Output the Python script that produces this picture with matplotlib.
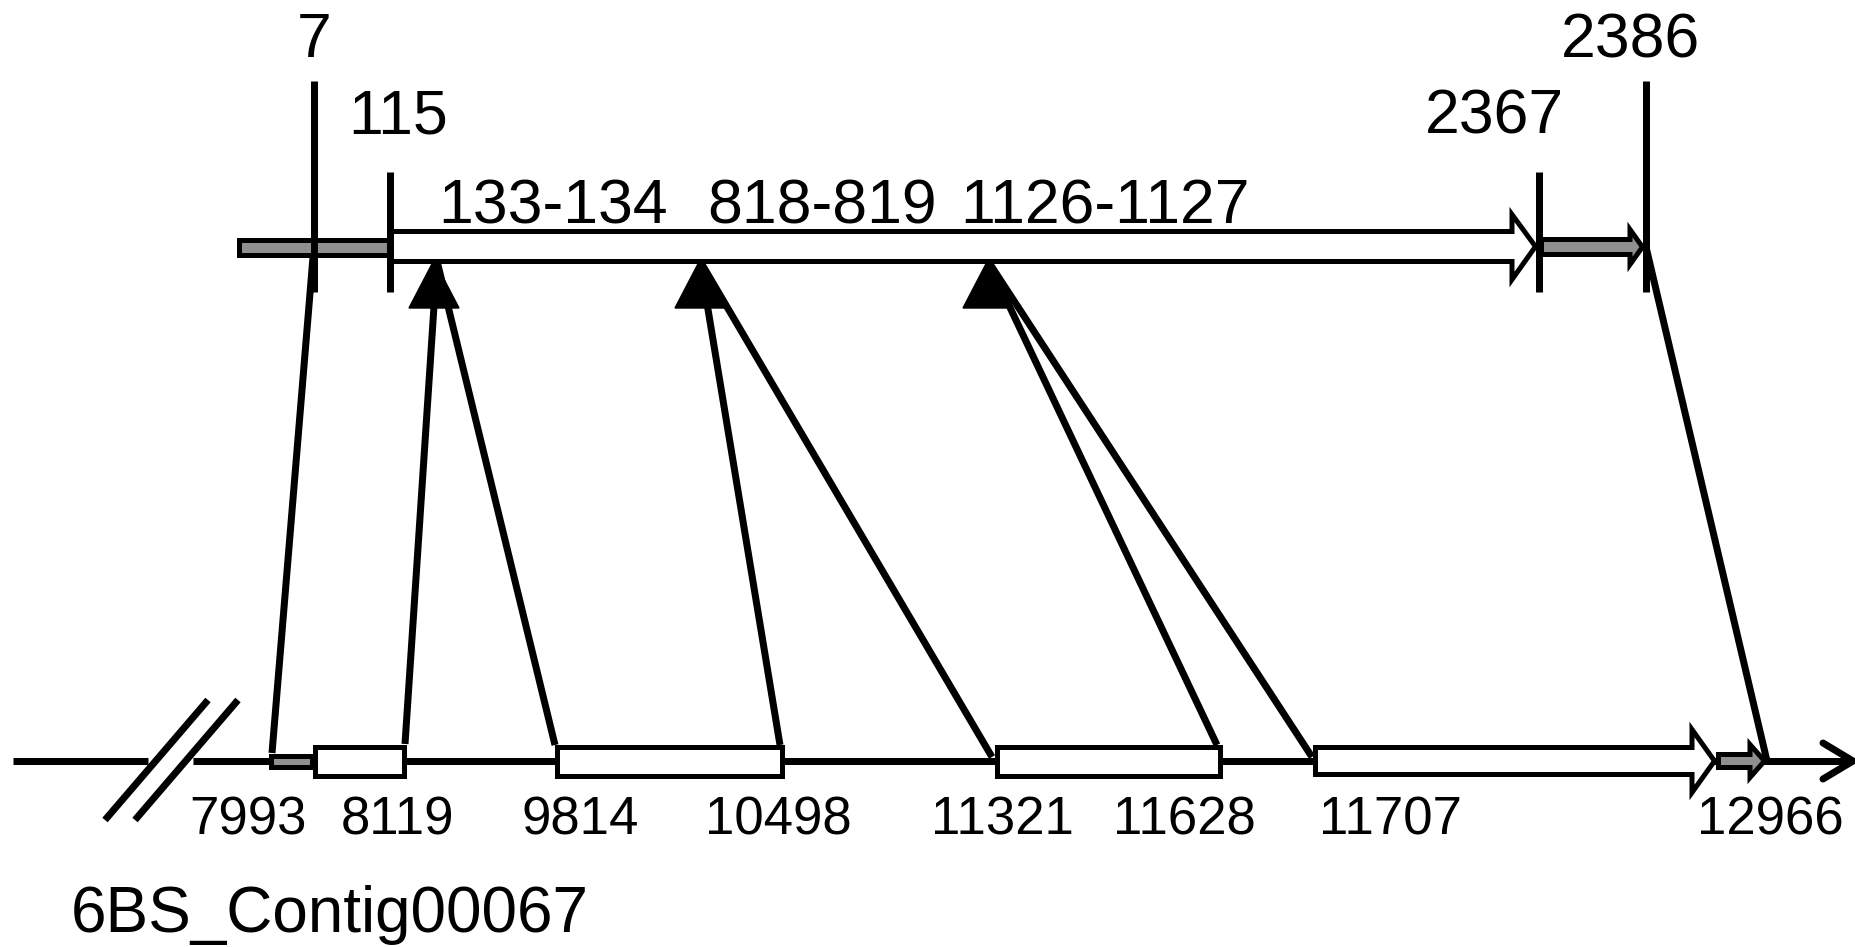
import matplotlib
matplotlib.use("Agg")
import matplotlib.pyplot as plt
from matplotlib.patches import Polygon

plt.rcParams.update({'font.family': ['Liberation Sans', 'DejaVu Sans']})

GRAY = "#8F8F8F"
PX = 0.72          # one pixel in points at dpi 100
LW = 7 * PX        # thick lines
EW = 5 * PX        # box outlines

# --- transcript (top) -------------------------------------------------------
top_ticks = ["7", "115", "2367", "2386"]
top_tick_x = [314, 390, 1539, 1646]
top_tick_top = [81, 172, 172, 81]
site_labels = ["133-134", "818-819", "1126-1127"]
site_x = [434, 700, 988]
site_label_x = [438, 707, 960]

# --- contig (bottom) --------------------------------------------------------
contig_name = "6BS_Contig00067"
bottom_labels = ["7993", "8119", "9814", "10498", "11321", "11628", "11707", "12966"]
bottom_label_x = [248, 398, 580, 778, 1002, 1184, 1390, 1770]
exon_x = [(313, 407), (555, 785), (995, 1223)]

# connector lines: (top x, top y) -> (bottom x, bottom y)
links = [((313, 257), (272, 753)),
         ((437, 261), (405, 744)), ((437, 261), (555, 745)),
         ((700, 261), (780, 745)), ((700, 261), (992, 757)),
         ((988, 261), (1217, 745)), ((988, 261), (1312, 757)),
         ((1646, 247), (1767, 761))]

fig = plt.figure(figsize=(18.56, 9.47), dpi=100)
ax = fig.add_axes([0, 0, 1, 1])
ax.set_xlim(0, 1856); ax.set_ylim(947, 0); ax.axis('off')


def box(x0, x1, y0, y1, fc, z=3):
    # outer edges given, inset by half the outline width
    h = 2.5
    pts = [(x0 + h, y0 + h), (x1 - h, y0 + h), (x1 - h, y1 - h), (x0 + h, y1 - h)]
    ax.add_patch(Polygon(pts, closed=True, fc=fc, ec='black', lw=EW, zorder=z, joinstyle='miter'))


def arrow(x0, xh, xt, y0, y1, hy0, hy1, fc, z=3):
    h = 2.5
    yc = (y0 + y1) / 2
    pts = [(x0 + h, y0 + h), (xh, y0 + h), (xh, hy0 + h), (xt - h, yc),
           (xh, hy1 - h), (xh, y1 - h), (x0 + h, y1 - h)]
    ax.add_patch(Polygon(pts, closed=True, fc=fc, ec='black', lw=EW, zorder=z, joinstyle='miter'))


# top transcript
box(237, 392, 237, 257, GRAY)
arrow(388, 1512, 1538, 229, 264, 212, 282, 'white')
arrow(1539, 1630, 1645, 237, 257, 227, 267, GRAY)
for x, yt in zip(top_tick_x, top_tick_top):
    ax.plot([x, x], [yt, 292], color='black', lw=LW, solid_capstyle='butt', zorder=5)

ax.text(top_tick_x[0], 57, top_ticks[0], ha='center', va='baseline', fontsize=45)
ax.text(348, 133, top_ticks[1], ha='left', va='baseline', fontsize=45)
ax.text(1425, 133, top_ticks[2], ha='left', va='baseline', fontsize=45)
ax.text(1561, 57, top_ticks[3], ha='left', va='baseline', fontsize=45)
for lab, lx in zip(site_labels, site_label_x):
    ax.text(lx, 223, lab, ha='left', va='baseline', fontsize=45)

# insertion triangles
for sx in site_x:
    ax.add_patch(Polygon([(sx, 260), (sx - 25, 308), (sx + 25, 308)], closed=True,
                         fc='black', ec='black', lw=1, zorder=6))

# connectors
for (xa, ya), (xb, yb) in links:
    ax.plot([xa, xb], [ya, yb], color='black', lw=LW, solid_capstyle='butt', zorder=2)

# bottom contig line with break
ax.plot([13, 148], [761, 761], color='black', lw=LW, solid_capstyle='butt', zorder=1)
ax.plot([193, 1853], [761, 761], color='black', lw=LW, solid_capstyle='butt', zorder=1)
ax.plot([1823, 1853, 1823], [743, 761, 779], color='black', lw=LW,
        solid_capstyle='round', solid_joinstyle='miter', zorder=1)
ax.plot([105, 208], [820, 700], color='black', lw=LW, solid_capstyle='butt', zorder=1)
ax.plot([135, 238], [820, 700], color='black', lw=LW, solid_capstyle='butt', zorder=1)

box(269, 315, 753, 769, GRAY)
for x0, x1 in exon_x:
    box(x0, x1, 744, 778, 'white')
arrow(1313, 1692, 1717, 745, 777, 727, 795, 'white')
arrow(1716, 1750, 1767, 752, 770, 742, 780, GRAY)

for lab, lx in zip(bottom_labels, bottom_label_x):
    ax.text(lx, 834, lab, ha='center', va='baseline', fontsize=38)

ax.text(71, 932, contig_name, ha='left', va='baseline', fontsize=46)

fig.savefig("out.png", dpi=100, facecolor='white')
